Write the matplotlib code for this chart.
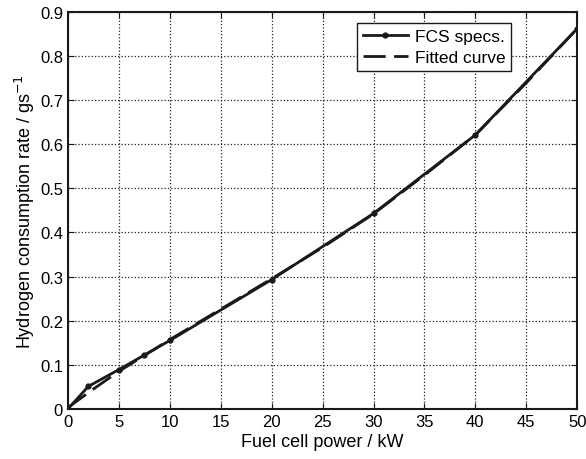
import matplotlib
matplotlib.use('Agg')
import matplotlib.pyplot as plt

plt.rcParams['font.family'] = ['Liberation Sans', 'DejaVu Sans']

# FCS specification points
spec_power = [0, 2, 5, 7.5, 10, 20, 30, 40, 50]
spec_rate = [0, 0.051, 0.089, 0.122, 0.155, 0.293, 0.443, 0.621, 0.862]

# fitted curve
fit_power = [0, 2.5, 5, 7.5, 10, 15, 20, 25, 30, 35, 40, 45, 50]
fit_rate = [0.003, 0.045, 0.085, 0.121, 0.157, 0.226, 0.295, 0.366, 0.442, 0.530, 0.621, 0.739, 0.862]

xticks = list(range(0, 51, 5))
yticks = [0, 0.1, 0.2, 0.3, 0.4, 0.5, 0.6, 0.7, 0.8, 0.9]
yticklabels = ['0', '0.1', '0.2', '0.3', '0.4', '0.5', '0.6', '0.7', '0.8', '0.9']

fig = plt.figure(figsize=(5.86, 4.6), dpi=100)
ax = fig.add_axes([0.116, 0.109, 0.869, 0.863])

ax.plot(spec_power, spec_rate, '-', color='#1a1a1a', lw=2, marker='o', ms=3.5,
        label='FCS specs.')
ax.plot(fit_power, fit_rate, '--', color='#1a1a1a', lw=2, dashes=(8, 3),
        label='Fitted curve')

ax.set_xlim(0, 50)
ax.set_ylim(0, 0.9)
ax.set_xticks(xticks)
ax.set_yticks(yticks)
ax.set_yticklabels(yticklabels)
ax.tick_params(direction='in', labelsize=12, length=4, color='#1a1a1a',
               top=True, right=True)
ax.grid(True, linestyle=':', color='#222222', lw=0.9)
for s in ax.spines.values():
    s.set_linewidth(1.5)
    s.set_color('#1a1a1a')

ax.set_xlabel('Fuel cell power / kW', fontsize=13, labelpad=3)
ax.set_ylabel('Hydrogen consumption rate / gs$^{-1}$', fontsize=13, labelpad=2)

leg = ax.legend(loc='upper right', bbox_to_anchor=(0.888, 0.995), fontsize=12.5,
                fancybox=False, framealpha=1, edgecolor='#1a1a1a',
                handlelength=2.6, borderpad=0.35, labelspacing=0.35,
                handletextpad=0.4)
leg.get_frame().set_linewidth(1.0)

fig.savefig('out.png', dpi=100)
